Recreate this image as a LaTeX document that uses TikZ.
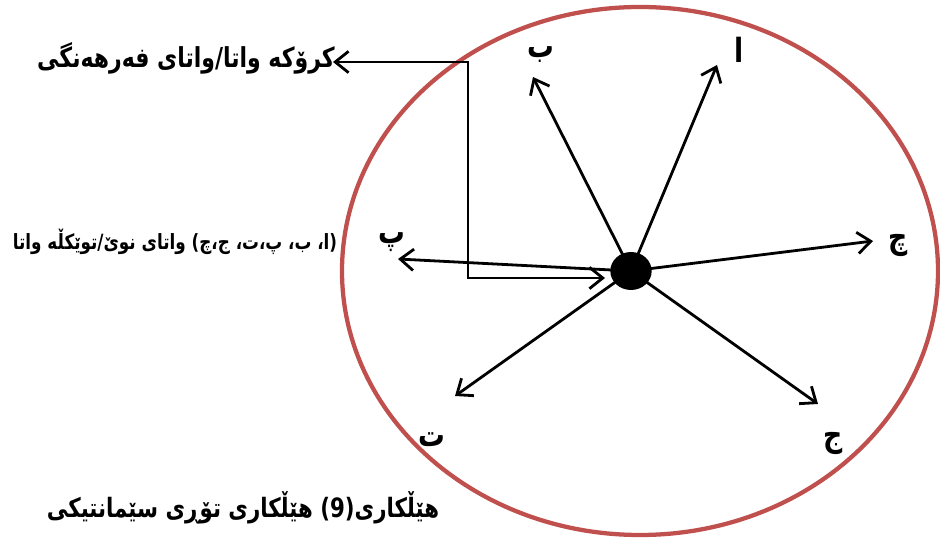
\documentclass[tikz,border=0pt]{standalone}
\usepackage{fontspec}
\usetikzlibrary{arrows.meta,shapes.geometric}
\TeXXeTstate=1
\newfontfamily\kfont[Script=Arabic]{DejaVu Sans}
\definecolor{ringred}{RGB}{192,80,77}
\newcommand{\tallR}[1]{\scalebox{1}[1.25]{\beginR #1\endR}}
\begin{document}
\begin{tikzpicture}[x=0.75pt,y=-0.75pt,
  conn/.style={line width=2.1pt,-{Straight Barb[length=10pt,width=16pt,line width=2.1pt]}},
  bracketline/.style={line width=2.1pt,{Straight Barb[length=10pt,width=16pt,line width=2.1pt]}-{Straight Barb[length=10pt,width=16pt,line width=2.1pt]}},
  letter/.style={font=\kfont\bfseries\fontsize{20}{24}\selectfont,inner sep=0pt},
  bigtext/.style={font=\kfont\bfseries\fontsize{16.5}{20}\selectfont,inner sep=0pt},
  captext/.style={font=\kfont\bfseries\fontsize{16}{20}\selectfont,inner sep=0pt},
  smalltext/.style={font=\kfont\bfseries\fontsize{12.6}{15}\selectfont,inner sep=0pt}]
\useasboundingbox (0,0) rectangle (940,538);
\fill[white] (0,0) rectangle (940,538);
% ring
\node[draw=ringred,line width=3.2pt,ellipse,inner sep=0pt,minimum width=447pt,minimum height=396pt] (ring) at (640,271) {};
% centre dot
\node[fill=black,ellipse,inner sep=0pt,minimum width=31pt,minimum height=28.5pt] (c) at (631,271) {};
% arrow ends
\coordinate (eA) at (717,65);
\coordinate (eB) at (533,77);
\coordinate (eCh) at (873,241);
\coordinate (eP) at (398,259);
\coordinate (eT) at (455,396);
\coordinate (eJ) at (818,404);
\draw[conn] (c.center) -- (eA);
\draw[conn] (c.center) -- (eB);
\draw[conn] (c.center) -- (eCh);
\draw[conn] (c.center) -- (eP);
\draw[conn] (c.center) -- (eT);
\draw[conn] (c.center) -- (eJ);
% letters
\node[letter] (lA) at (739,50) {\tallR{ا}};
\node[letter] (lB) at (541,55) {\tallR{ب}};
\node[letter] (lCh) at (898,245) {\tallR{چ}};
\node[letter] (lP) at (392,242) {\tallR{پ}};
\node[letter] (lT) at (432,440) {\tallR{ت}};
\node[letter] (lJ) at (833,443) {\tallR{ج}};
% bracket
\coordinate (bL) at (333,62);
\coordinate (b1) at (468,62);
\coordinate (b2) at (468,278);
\coordinate (bR) at (605,278);
\draw[bracketline] (bL) -- (b1) -- (b2) -- (bR);
% texts
\node[bigtext] (core) at (186,58) {\tallR{کرۆکە واتا/واتای فەرهەنگی}};
\node[smalltext] (shell) at (175,242) {\tallR{(ا، ب، پ،ت، ج،چ) واتای نوێ/توێکڵە واتا}};
\node[captext] (cap) at (243,508) {\tallR{هێڵکاری(9) هێڵکاری تۆڕی سێمانتیکی}};
\end{tikzpicture}
\end{document}
